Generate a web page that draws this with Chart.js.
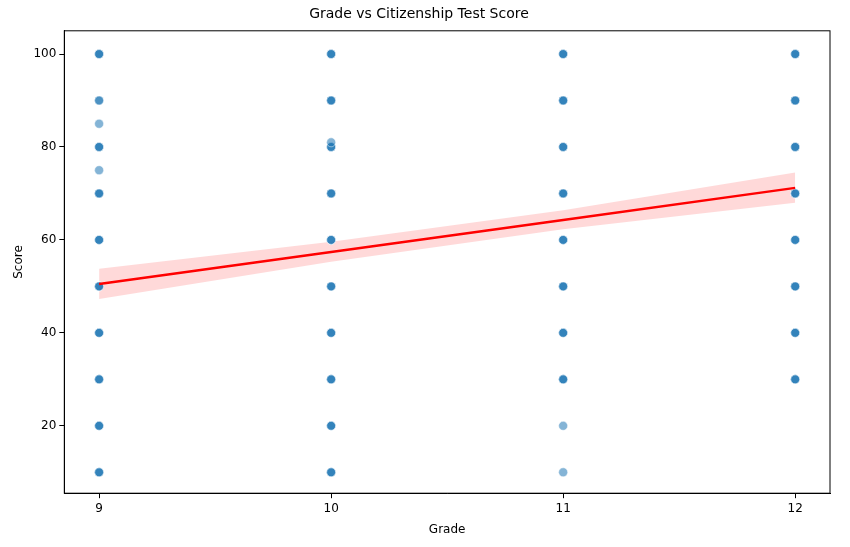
<!DOCTYPE html><html><head><script src="https://cdn.jsdelivr.net/npm/chart.js@4"></script>
<style>body{margin:0;background:#fff}#w{width:850px;height:547px}</style></head><body><div id="w"><canvas id="c"></canvas></div>
<script>
// [score, count] count = overlapping duplicates (darker)
const grade9 = [[10,3],[20,3],[30,3],[40,3],[50,3],[60,3],[70,3],[80,3],[90,2],[100,3],[75,1],[85,1]];
const grade10 = [[10,3],[20,3],[30,3],[40,3],[50,3],[60,3],[70,3],[80,3],[90,3],[100,3],[81,1]];
const grade11 = [[10,1],[20,1],[30,3],[40,3],[50,3],[60,3],[70,3],[80,3],[90,3],[100,3]];
const grade12 = [[30,3],[40,3],[50,3],[60,3],[70,3],[80,3],[90,3],[100,3]];
const fitX = [9,10,11,12];
const fitY = [50.5,57.4,64.3,71.2];
const ciLow = [47.3,55.3,62.3,68.0];
const ciHigh = [53.8,59.6,66.4,74.5];
const pts=[];
[[9,grade9],[10,grade10],[11,grade11],[12,grade12]].forEach(([g,arr])=>arr.forEach(([s,n])=>{for(let i=0;i<n;i++)pts.push({x:g,y:s});}));
const xy=(ys)=>fitX.map((x,i)=>({x,y:ys[i]}));
const box={id:'box',afterDraw(c){const a=c.chartArea,x=c.ctx;x.save();x.strokeStyle='#000';x.lineWidth=1;x.strokeRect(a.left,a.top,a.right-a.left,a.bottom-a.top);x.restore();}};
const ax={color:'#000',font:{family:'DejaVu Sans',size:12}};
new Chart(document.getElementById('c'),{
 plugins:[box],
 data:{datasets:[
  {type:'line',data:xy(ciLow),borderWidth:0,pointRadius:0,fill:false,order:3},
  {type:'line',data:xy(ciHigh),borderWidth:0,pointRadius:0,fill:'-1',backgroundColor:'rgba(255,0,0,0.15)',order:3},
  {type:'scatter',data:pts,backgroundColor:'rgba(31,119,180,0.55)',borderColor:'rgba(255,255,255,0.6)',borderWidth:0.8,pointRadius:4.5,order:2},
  {type:'line',data:xy(fitY),borderColor:'red',borderWidth:2.5,pointRadius:0,fill:false,order:1}
 ]},
 options:{responsive:true,maintainAspectRatio:false,animation:false,
  layout:{padding:{left:8,right:20,top:0,bottom:6}},
  plugins:{legend:{display:false},tooltip:{enabled:false},
   title:{display:true,text:'Grade vs Citizenship Test Score',color:'#000',font:{family:'DejaVu Sans',size:14,weight:'normal'},padding:{top:6,bottom:8}}},
  scales:{
   x:{type:'linear',min:8.85,max:12.15,grid:{drawOnChartArea:false,tickLength:5,color:'#000'},border:{color:'#000'},
    afterBuildTicks:a=>{a.ticks=[9,10,11,12].map(v=>({value:v}));},
    ticks:{...ax,padding:3},
    title:{display:true,text:'Grade',...ax}},
   y:{min:5.5,max:105,grid:{drawOnChartArea:false,tickLength:5,color:'#000'},border:{color:'#000'},
    afterBuildTicks:a=>{a.ticks=[20,40,60,80,100].map(v=>({value:v}));},
    ticks:{...ax,padding:3},
    title:{display:true,text:'Score',...ax}}
  }}
});
</script></body></html>
